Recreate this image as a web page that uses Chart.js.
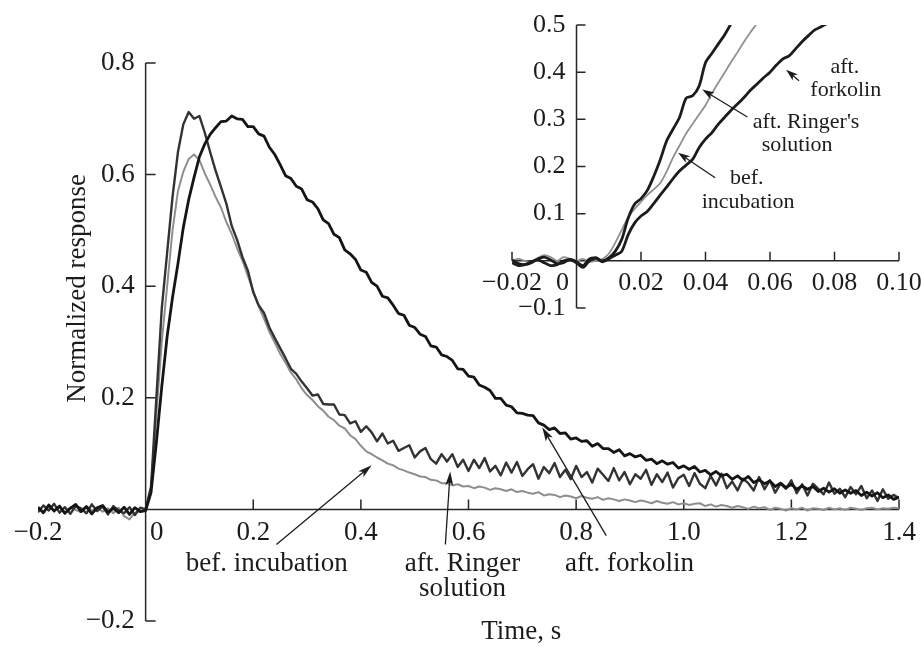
<!DOCTYPE html>
<html>
<head>
<meta charset="utf-8">
<script src="https://cdn.jsdelivr.net/npm/chart.js@4/dist/chart.umd.min.js"></script>
<style>
body { margin: 0; background: #fff; }
#wrap { position: relative; width: 922px; height: 647px; }
#main { position: absolute; left: 0; top: 0; }
#inset { position: absolute; left: 460px; top: 0; }
</style>
</head>
<body>
<div id="wrap">
  <canvas id="main" width="922" height="647"></canvas>
  <canvas id="inset" width="462" height="330"></canvas>
</div>
<script>
// ---- main panel data (time, s) ----
const mainT = [
  -0.20,-0.19,-0.18,-0.17,-0.16,-0.15,-0.14,-0.13,-0.12,-0.11,
  -0.10,-0.09,-0.08,-0.07,-0.06,-0.05,-0.04,-0.03,-0.02,-0.01,
  0.00,0.01,0.02,0.03,0.04,0.05,0.06,0.07,0.08,0.09,
  0.10,0.11,0.12,0.13,0.14,0.15,0.16,0.17,0.18,0.19,
  0.20,0.21,0.22,0.23,0.24,0.25,0.26,0.27,0.28,0.29,
  0.30,0.31,0.32,0.33,0.34,0.35,0.36,0.37,0.38,0.39,
  0.40,0.41,0.42,0.43,0.44,0.45,0.46,0.47,0.48,0.49,
  0.50,0.51,0.52,0.53,0.54,0.55,0.56,0.57,0.58,0.59,
  0.60,0.61,0.62,0.63,0.64,0.65,0.66,0.67,0.68,0.69,
  0.70,0.71,0.72,0.73,0.74,0.75,0.76,0.77,0.78,0.79,
  0.80,0.81,0.82,0.83,0.84,0.85,0.86,0.87,0.88,0.89,
  0.90,0.91,0.92,0.93,0.94,0.95,0.96,0.97,0.98,0.99,
  1.00,1.01,1.02,1.03,1.04,1.05,1.06,1.07,1.08,1.09,
  1.10,1.11,1.12,1.13,1.14,1.15,1.16,1.17,1.18,1.19,
  1.20,1.21,1.22,1.23,1.24,1.25,1.26,1.27,1.28,1.29,
  1.30,1.31,1.32,1.33,1.34,1.35,1.36,1.37,1.38,1.39,
  1.40
];
const mainForkolin = [
  0.004,-0.006,0.008,-0.003,0.006,-0.007,0.002,0.009,-0.004,0.005,
  -0.008,0.003,0.007,-0.005,0.002,-0.006,0.004,-0.009,0.003,-0.004,
  -0.002,0.03,0.12,0.22,0.31,0.38,0.44,0.505,0.555,0.595,
  0.632,0.655,0.672,0.684,0.695,0.696,0.705,0.700,0.699,0.686,
  0.686,0.673,0.669,0.649,0.636,0.618,0.598,0.593,0.579,0.574,
  0.555,0.551,0.539,0.519,0.512,0.493,0.487,0.465,0.458,0.448,
  0.429,0.425,0.407,0.400,0.382,0.379,0.366,0.351,0.348,0.330,
  0.326,0.314,0.310,0.293,0.291,0.277,0.274,0.267,0.252,0.251,
  0.239,0.237,0.223,0.219,0.213,0.199,0.199,0.187,0.184,0.173,
  0.172,0.169,0.168,0.155,0.151,0.143,0.146,0.136,0.137,0.126,
  0.128,0.122,0.123,0.113,0.118,0.109,0.109,0.102,0.107,0.096,
  0.100,0.094,0.097,0.088,0.090,0.082,0.087,0.081,0.084,0.074,
  0.078,0.072,0.077,0.067,0.070,0.062,0.068,0.060,0.063,0.054,
  0.060,0.052,0.059,0.048,0.053,0.046,0.051,0.041,0.047,0.039,
  0.045,0.036,0.042,0.036,0.041,0.032,0.038,0.031,0.037,0.029,
  0.035,0.029,0.034,0.025,0.031,0.024,0.030,0.021,0.026,0.018,
  0.022
];
const mainRinger = [
  -0.005,0.007,-0.002,0.010,-0.006,0.004,-0.008,0.006,0.002,-0.007,
  0.009,-0.003,0.005,-0.009,0.006,-0.002,-0.007,0.004,-0.010,0.003,
  0.000,0.04,0.20,0.36,0.46,0.56,0.64,0.69,0.712,0.700,
  0.705,0.675,0.640,0.607,0.578,0.548,0.508,0.483,0.452,0.428,
  0.389,0.366,0.352,0.326,0.307,0.289,0.271,0.252,0.243,0.229,
  0.217,0.204,0.206,0.189,0.188,0.188,0.170,0.169,0.154,0.158,
  0.139,0.149,0.138,0.122,0.136,0.118,0.123,0.105,0.110,0.115,
  0.093,0.104,0.110,0.090,0.082,0.099,0.086,0.099,0.076,0.089,
  0.069,0.089,0.074,0.092,0.068,0.078,0.061,0.084,0.066,0.085,
  0.060,0.072,0.081,0.055,0.076,0.065,0.083,0.058,0.071,0.054,
  0.078,0.058,0.067,0.048,0.073,0.062,0.051,0.074,0.052,0.067,
  0.045,0.063,0.055,0.071,0.044,0.063,0.049,0.066,0.039,0.056,
  0.062,0.042,0.065,0.046,0.038,0.060,0.043,0.064,0.038,0.050,
  0.034,0.055,0.047,0.034,0.058,0.036,0.052,0.030,0.046,0.037,
  0.052,0.029,0.045,0.025,0.046,0.037,0.027,0.048,0.028,0.037,
  0.022,0.040,0.027,0.042,0.020,0.034,0.015,0.036,0.019,0.026,
  0.020
];
const mainBefore = [
  0.002,-0.004,0.005,-0.002,0.003,-0.006,0.004,-0.001,-0.005,0.006,
  -0.002,0.003,-0.004,0.002,-0.007,0.003,-0.012,-0.018,-0.006,-0.003,
  0.000,0.04,0.17,0.30,0.40,0.50,0.57,0.605,0.628,0.636,
  0.626,0.602,0.582,0.560,0.541,0.515,0.494,0.468,0.446,0.418,
  0.392,0.364,0.342,0.318,0.299,0.279,0.263,0.245,0.233,0.217,
  0.205,0.196,0.185,0.177,0.166,0.160,0.150,0.145,0.133,0.126,
  0.114,0.104,0.099,0.093,0.088,0.082,0.079,0.073,0.070,0.066,
  0.063,0.059,0.058,0.053,0.052,0.047,0.047,0.043,0.045,0.041,
  0.042,0.038,0.041,0.039,0.035,0.038,0.036,0.033,0.036,0.031,
  0.033,0.030,0.028,0.031,0.025,0.027,0.026,0.022,0.025,0.023,
  0.020,0.024,0.021,0.019,0.022,0.017,0.020,0.018,0.015,0.018,
  0.016,0.013,0.016,0.014,0.011,0.015,0.012,0.010,0.013,0.009,
  0.011,0.008,0.010,0.011,0.006,0.009,0.005,0.008,0.006,0.003,
  0.006,0.004,0.001,0.005,0.002,0.004,-0.001,0.003,0.001,-0.002,
  0.002,0.000,0.003,-0.002,0.002,0.001,-0.001,0.003,0.000,0.002,
  -0.001,0.003,0.001,-0.001,0.002,0.003,0.000,0.002,0.001,0.003,
  0.002
];
const mainXTicks = [-0.2, 0, 0.2, 0.4, 0.6, 0.8, 1.0, 1.2, 1.4];
const mainXLabels = ['\u22120.2', '0', '0.2', '0.4', '0.6', '0.8', '1.0', '1.2', '1.4'];
const mainYTicks = [0.8, 0.6, 0.4, 0.2, -0.2];
const mainYLabels = ['0.8', '0.6', '0.4', '0.2', '\u22120.2'];

// ---- inset data (first 0.1 s) ----
const insetT = [
  -0.020,-0.018,-0.016,-0.014,-0.012,-0.010,-0.008,-0.006,-0.004,-0.002,
  0.000,0.002,0.004,0.006,0.008,0.010,0.012,0.014,0.016,0.018,
  0.020,0.022,0.024,0.026,0.028,0.030,0.032,0.034,0.036,0.038,
  0.040,0.042,0.044,0.046,0.048,0.050,0.052,0.054,0.056,0.058,
  0.060,0.062,0.064,0.066,0.068,0.070,0.072,0.074,0.076,0.078,
  0.080
];
const insetRinger = [
  0.002,-0.006,-0.008,-0.004,0.004,0.008,0.002,-0.006,-0.004,0.003,
  -0.002,-0.010,0.004,0.006,0.000,0.006,0.020,0.045,0.090,0.120,
  0.132,0.150,0.180,0.215,0.255,0.280,0.305,0.345,0.350,0.370,
  0.420,0.440,0.460,0.480,0.504,0.530,null,null,null,null,
  null,null,null,null,null,null,null,null,null,null,
  null
];
const insetBefore = [
  0.000,0.004,0.000,-0.002,0.006,0.012,0.008,0.000,0.008,0.004,
  0.000,0.004,-0.002,0.000,0.004,0.015,0.038,0.065,0.092,0.110,
  0.125,0.140,0.152,0.165,0.190,0.220,0.245,0.270,0.290,0.310,
  0.330,0.355,0.378,0.400,0.422,0.443,0.465,0.485,0.504,0.525,
  null,null,null,null,null,null,null,null,null,null,
  null
];
const insetForkolin = [
  -0.004,-0.010,-0.008,-0.002,0.002,-0.004,-0.010,-0.008,0.000,0.002,
  -0.004,-0.014,0.000,0.006,-0.002,0.004,0.012,0.020,0.055,0.080,
  0.095,0.105,0.122,0.140,0.157,0.175,0.191,0.203,0.215,0.240,
  0.258,0.272,0.290,0.305,0.320,0.333,0.347,0.362,0.375,0.388,
  0.400,0.415,0.428,0.435,0.450,0.465,0.478,0.490,0.497,0.504,
  0.510
];
const insetXTicks = [-0.02, 0, 0.02, 0.04, 0.06, 0.08, 0.10];
const insetXLabels = ['\u22120.02', '0', '0.02', '0.04', '0.06', '0.08', '0.10'];
const insetYTicks = [0.5, 0.4, 0.3, 0.2, 0.1, -0.1];
const insetYLabels = ['0.5', '0.4', '0.3', '0.2', '0.1', '\u22120.1'];

const SERIF = '"Liberation Serif", "Times New Roman", serif';

function pts(t, v) {
  return t.map((x, i) => ({ x: x, y: v[i] }));
}

function drawArrow(ctx, x1, y1, x2, y2, len, w) {
  let a = Math.atan2(y2 - y1, x2 - x1);
  let c = Math.cos(a), s = Math.sin(a);
  ctx.beginPath();
  ctx.moveTo(x1, y1);
  ctx.lineTo(x2 - c * len * 0.7, y2 - s * len * 0.7);
  ctx.stroke();
  ctx.beginPath();
  ctx.moveTo(x2, y2);
  ctx.lineTo(x2 - c * len + s * w, y2 - s * len - c * w);
  ctx.lineTo(x2 - c * len * 0.75, y2 - s * len * 0.75);
  ctx.lineTo(x2 - c * len - s * w, y2 - s * len + c * w);
  ctx.closePath();
  ctx.fill();
}

// axes crossing at zero, inward ticks, labels and arrow notes
function axesPlugin(cfg) {
  return {
    id: 'axesDraw',
    beforeDatasetsDraw(chart) {
      const ctx = chart.ctx, xs = chart.scales.x, ys = chart.scales.y;
      const x0 = xs.getPixelForValue(0), y0 = ys.getPixelForValue(0);
      ctx.save();
      ctx.strokeStyle = '#262626';
      ctx.lineWidth = 1.5;
      ctx.beginPath();
      ctx.moveTo(x0, ys.getPixelForValue(cfg.yLine[0]));
      ctx.lineTo(x0, ys.getPixelForValue(cfg.yLine[1]));
      ctx.moveTo(xs.getPixelForValue(cfg.xLine[0]), y0);
      ctx.lineTo(xs.getPixelForValue(cfg.xLine[1]), y0);
      cfg.yMarks.forEach(v => {
        let p = ys.getPixelForValue(v);
        ctx.moveTo(x0, p); ctx.lineTo(x0 + cfg.tickLen, p);
      });
      cfg.xMarks.forEach(v => {
        let p = xs.getPixelForValue(v);
        ctx.moveTo(p, y0); ctx.lineTo(p, y0 - cfg.tickLen);
      });
      ctx.stroke();
      ctx.restore();
    },
    afterDraw(chart) {
      const ctx = chart.ctx, xs = chart.scales.x, ys = chart.scales.y;
      const x0 = xs.getPixelForValue(0), y0 = ys.getPixelForValue(0);
      ctx.save();
      ctx.fillStyle = '#1c1c1c';
      ctx.font = cfg.tickFont;
      ctx.textBaseline = 'middle';
      ctx.textAlign = 'right';
      cfg.yTicks.forEach((v, i) => {
        ctx.fillText(cfg.yLabels[i], x0 - 11, ys.getPixelForValue(v));
      });
      ctx.textAlign = 'center';
      cfg.xTicks.forEach((v, i) => {
        let shift = v === 0 ? cfg.zeroShift : 0;
        ctx.fillText(cfg.xLabels[i], xs.getPixelForValue(v) + shift, y0 + cfg.xLabelGap);
      });
      ctx.font = cfg.noteFont;
      cfg.notes.forEach(n => {
        ctx.fillText(n.text, xs.getPixelForValue(n.x), ys.getPixelForValue(n.y));
      });
      if (cfg.xTitle) {
        ctx.font = cfg.tickFont;
        ctx.fillText(cfg.xTitle.text, xs.getPixelForValue(cfg.xTitle.x), chart.chartArea.bottom + 11);
      }
      if (cfg.yTitle) {
        ctx.save();
        ctx.translate(cfg.yTitle.px, ys.getPixelForValue(cfg.yTitle.y));
        ctx.rotate(-Math.PI / 2);
        ctx.font = cfg.tickFont;
        ctx.fillText(cfg.yTitle.text, 0, 0);
        ctx.restore();
      }
      ctx.strokeStyle = '#1c1c1c';
      ctx.lineWidth = 1.3;
      cfg.arrows.forEach(a => {
        drawArrow(ctx, xs.getPixelForValue(a.from[0]), ys.getPixelForValue(a.from[1]),
          xs.getPixelForValue(a.to[0]), ys.getPixelForValue(a.to[1]), cfg.headLen, 4);
      });
      ctx.restore();
    }
  };
}

Chart.defaults.animation = false;
Chart.defaults.font.family = SERIF;

var mainChart = new Chart(document.getElementById('main'), {
  type: 'line',
  data: {
    datasets: [
      { label: 'aft. forkolin', data: pts(mainT, mainForkolin), borderColor: '#151515', borderWidth: 2.8 },
      { label: 'aft. Ringer solution', data: pts(mainT, mainRinger), borderColor: '#333333', borderWidth: 2.4 },
      { label: 'bef. incubation', data: pts(mainT, mainBefore), borderColor: '#8e8e8e', borderWidth: 2 }
    ]
  },
  options: {
    responsive: false,
    devicePixelRatio: 1,
    layout: { padding: { left: 38, right: 23, top: 63, bottom: 26 } },
    elements: { point: { radius: 0 }, line: { tension: 0, borderJoinStyle: 'round' } },
    scales: {
      x: { type: 'linear', min: -0.2, max: 1.4, display: false },
      y: { type: 'linear', min: -0.2, max: 0.8, display: false }
    },
    plugins: { legend: { display: false }, tooltip: { enabled: false } }
  },
  plugins: [axesPlugin({
    xLine: [0, 1.4], yLine: [-0.2, 0.8],
    xMarks: [0.2, 0.4, 0.6, 0.8, 1.0, 1.2, 1.4], yMarks: mainYTicks,
    xTicks: mainXTicks, xLabels: mainXLabels, yTicks: mainYTicks, yLabels: mainYLabels,
    tickLen: 10, xLabelGap: 24, zeroShift: 11, headLen: 14,
    tickFont: '27px ' + SERIF, noteFont: '27px ' + SERIF,
    notes: [
      { text: 'bef. incubation', x: 0.225, y: -0.097 },
      { text: 'aft. Ringer', x: 0.589, y: -0.097 },
      { text: 'solution', x: 0.589, y: -0.142 },
      { text: 'aft. forkolin', x: 0.899, y: -0.097 }
    ],
    arrows: [
      { from: [0.243, -0.063], to: [0.42, 0.079] },
      { from: [0.557, -0.063], to: [0.566, 0.068] },
      { from: [0.856, -0.047], to: [0.737, 0.147] }
    ],
    xTitle: { text: 'Time, s', x: 0.698 },
    yTitle: { text: 'Normalized response', px: 78, y: 0.396 }
  })]
});

var insetChart = new Chart(document.getElementById('inset'), {
  type: 'line',
  data: {
    datasets: [
      { label: 'aft. forkolin', data: pts(insetT, insetForkolin), borderColor: '#1c1c1c', borderWidth: 2.8 },
      { label: "aft. Ringer's solution", data: pts(insetT, insetRinger), borderColor: '#1c1c1c', borderWidth: 2.8 },
      { label: 'bef. incubation', data: pts(insetT, insetBefore), borderColor: '#909090', borderWidth: 1.8 }
    ]
  },
  options: {
    responsive: false,
    devicePixelRatio: 1,
    layout: { padding: { left: 52, right: 23, top: 25, bottom: 22 } },
    elements: { point: { radius: 0 }, line: { tension: 0.3, borderJoinStyle: 'round' } },
    scales: {
      x: { type: 'linear', min: -0.02, max: 0.10, display: false },
      y: { type: 'linear', min: -0.1, max: 0.5, display: false }
    },
    plugins: { legend: { display: false }, tooltip: { enabled: false } }
  },
  plugins: [axesPlugin({
    xLine: [-0.02, 0.10], yLine: [-0.1, 0.5],
    xMarks: [-0.02, 0.02, 0.04, 0.06, 0.08, 0.10], yMarks: insetYTicks,
    xTicks: insetXTicks, xLabels: insetXLabels, yTicks: insetYTicks, yLabels: insetYLabels,
    tickLen: 9, xLabelGap: 22, zeroShift: -14, headLen: 12,
    tickFont: '26px ' + SERIF, noteFont: '22px ' + SERIF,
    notes: [
      { text: 'aft.', x: 0.0832, y: 0.411 },
      { text: 'forkolin', x: 0.0835, y: 0.362 },
      { text: "aft. Ringer's", x: 0.0712, y: 0.294 },
      { text: 'solution', x: 0.0684, y: 0.246 },
      { text: 'bef.', x: 0.0528, y: 0.176 },
      { text: 'incubation', x: 0.0532, y: 0.125 }
    ],
    arrows: [
      { from: [0.069, 0.382], to: [0.065, 0.405] },
      { from: [0.053, 0.305], to: [0.039, 0.363] },
      { from: [0.043, 0.176], to: [0.0315, 0.229] }
    ]
  })]
});
</script>
</body>
</html>
